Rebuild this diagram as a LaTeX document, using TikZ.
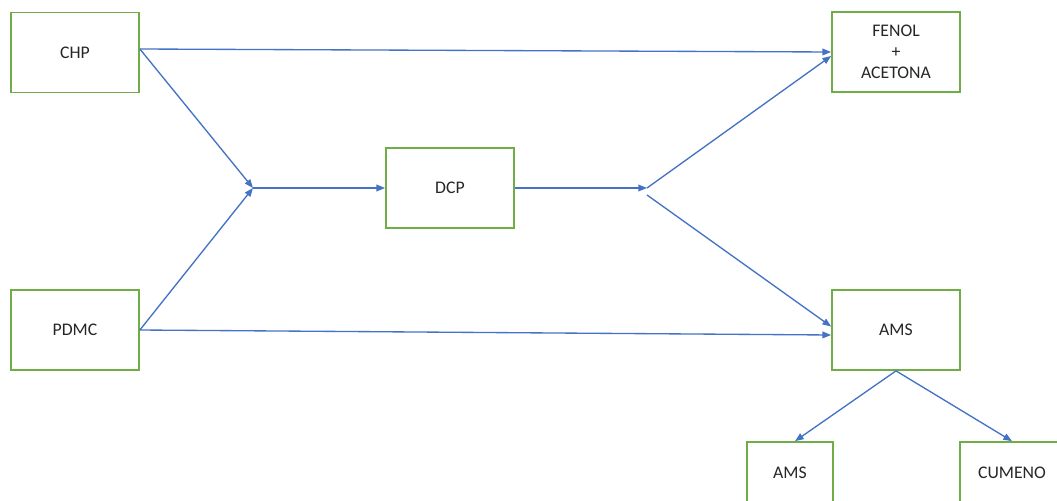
\documentclass[tikz,border=0pt]{standalone}
\usepackage{fontspec}
\setmainfont{Carlito}
\usetikzlibrary{arrows.meta,calc}
\definecolor{boxgreen}{HTML}{70AD47}
\definecolor{flowblue}{HTML}{4472C4}
\begin{document}
\begin{tikzpicture}[x=0.75pt,y=-0.75pt,
  box/.style={draw=boxgreen,line width=1.3pt,fill=white,minimum width=96pt,
    minimum height=60pt,inner sep=0pt,align=center,
    font=\fontsize{13.3}{15.75}\selectfont,text=black!85},
  flow/.style={draw=flowblue,line width=1pt,-{Triangle[length=6.5pt,width=5pt]}}]
\clip (0,0) rectangle (1057,500);
\fill[white] (0,0) rectangle (1057,500);

% process boxes
\node[box] (chp)   at (75,52.5)  {CHP};
\node[box] (pdmc)  at (75,330)   {PDMC};
\node[box] (dcp)   at (450,188)  {DCP};
\node[box] (fenol) at (896,52)   {FENOL\\+\\ACETONA};
\node[box] (ams)   at (896,330)  {AMS};
\node[box,minimum width=64.5pt,minimum height=46.5pt] (ams2)   at (790,473)  {AMS};
\node[box,minimum width=78pt,minimum height=46.5pt]   (cumeno) at (1012,473) {CUMENO};

% branching points
\coordinate (j1) at (253,188);
\coordinate (j2) at (647,188);
\coordinate (j3) at (647,195);

% flows
\draw[flow] ($(chp.east)+(0,-3.5)$) -- (j1);
\draw[flow] (pdmc.east) -- (j1);
\draw[flow] (j1) -- (dcp.west);
\draw[flow] (dcp.east) -- (j2);
\draw[flow] (j2) -- ($(fenol.west)+(0,4)$);
\draw[flow] (j3) -- ($(ams.west)+(0,-3.5)$);
\draw[flow] ($(chp.east)+(0,-3.5)$) -- (fenol.west);
\draw[flow] (pdmc.east) -- ($(ams.west)+(0,5)$);
\draw[flow] (ams.south) -- ($(ams2.north)+(5,0)$);
\draw[flow] (ams.south) -- (cumeno.north);
\end{tikzpicture}
\end{document}
